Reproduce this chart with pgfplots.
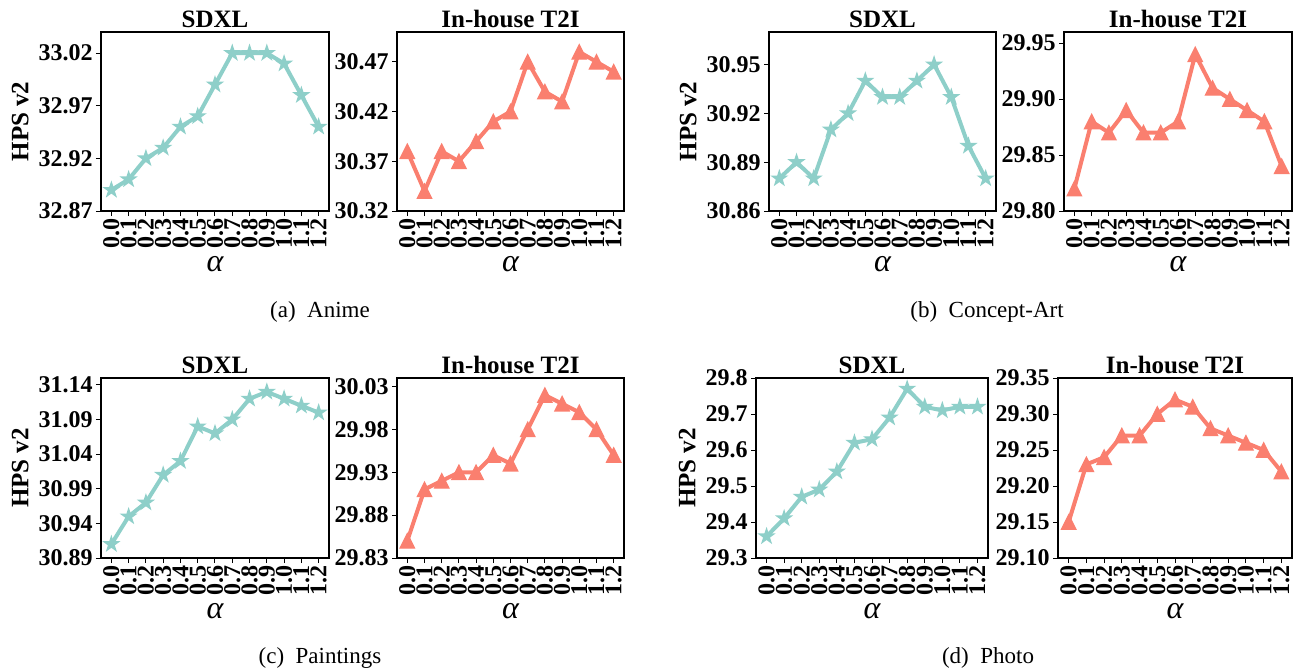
\documentclass[border=0pt]{standalone}
\usepackage{fontspec}
\setmainfont{Liberation Serif}
\usepackage{pgfplots}
\pgfplotsset{compat=1.18}
\usepackage{pgfplotstable}

\definecolor{teal}{HTML}{8ECFC9}
\definecolor{salmon}{HTML}{FA7F6F}

% filled five-pointed star, like matplotlib's '*'
\pgfdeclareplotmark{mstar}{%
  \pgfpathmoveto{\pgfpointpolar{90}{\pgfplotmarksize}}%
  \pgfpathlineto{\pgfpointpolar{126}{0.382\pgfplotmarksize}}%
  \pgfpathlineto{\pgfpointpolar{162}{\pgfplotmarksize}}%
  \pgfpathlineto{\pgfpointpolar{198}{0.382\pgfplotmarksize}}%
  \pgfpathlineto{\pgfpointpolar{234}{\pgfplotmarksize}}%
  \pgfpathlineto{\pgfpointpolar{270}{0.382\pgfplotmarksize}}%
  \pgfpathlineto{\pgfpointpolar{306}{\pgfplotmarksize}}%
  \pgfpathlineto{\pgfpointpolar{342}{0.382\pgfplotmarksize}}%
  \pgfpathlineto{\pgfpointpolar{18}{\pgfplotmarksize}}%
  \pgfpathlineto{\pgfpointpolar{54}{0.382\pgfplotmarksize}}%
  \pgfpathclose
  \pgfusepathqfillstroke}
% triangle as wide as it is high, like matplotlib's '^'
\pgfdeclareplotmark{mtri}{%
  \pgfpathmoveto{\pgfqpoint{0pt}{\pgfplotmarksize}}%
  \pgfpathlineto{\pgfqpoint{-\pgfplotmarksize}{-\pgfplotmarksize}}%
  \pgfpathlineto{\pgfqpoint{\pgfplotmarksize}{-\pgfplotmarksize}}%
  \pgfpathclose
  \pgfusepathqfillstroke}

\pgfplotstableread{
a    sdxl   inhouse
0.0  32.89  30.38
0.1  32.90  30.34
0.2  32.92  30.38
0.3  32.93  30.37
0.4  32.95  30.39
0.5  32.96  30.41
0.6  32.99  30.42
0.7  33.02  30.47
0.8  33.02  30.44
0.9  33.02  30.43
1.0  33.01  30.48
1.1  32.98  30.47
1.2  32.95  30.46
}\anime
\pgfplotstableread{
a    sdxl   inhouse
0.0  30.88  29.82
0.1  30.89  29.88
0.2  30.88  29.87
0.3  30.91  29.89
0.4  30.92  29.87
0.5  30.94  29.87
0.6  30.93  29.88
0.7  30.93  29.94
0.8  30.94  29.91
0.9  30.95  29.90
1.0  30.93  29.89
1.1  30.90  29.88
1.2  30.88  29.84
}\concept
\pgfplotstableread{
a    sdxl   inhouse
0.0  30.91  29.85
0.1  30.95  29.91
0.2  30.97  29.92
0.3  31.01  29.93
0.4  31.03  29.93
0.5  31.08  29.95
0.6  31.07  29.94
0.7  31.09  29.98
0.8  31.12  30.02
0.9  31.13  30.01
1.0  31.12  30.00
1.1  31.11  29.98
1.2  31.10  29.95
}\paintings
\pgfplotstableread{
a    sdxl   inhouse
0.0  29.36  29.15
0.1  29.41  29.23
0.2  29.47  29.24
0.3  29.49  29.27
0.4  29.54  29.27
0.5  29.62  29.30
0.6  29.63  29.32
0.7  29.69  29.31
0.8  29.77  29.28
0.9  29.72  29.27
1.0  29.71  29.26
1.1  29.72  29.25
1.2  29.72  29.22
}\photo

\pgfplotsset{
  panel/.style={
    scale only axis,
    xmin=-0.06, xmax=1.26,
    xtick={0,0.1,0.2,0.3,0.4,0.5,0.6,0.7,0.8,0.9,1.0,1.1,1.2},
    xticklabels={0.0,0.1,0.2,0.3,0.4,0.5,0.6,0.7,0.8,0.9,1.0,1.1,1.2},
    xtick pos=left, ytick pos=left,
    tick align=outside,
    major tick length=2.5pt,
    every tick/.style={black, line width=0.5pt},
    axis line style={black, line width=0.6pt},
    /pgf/number format/assume math mode=true,
    /pgf/number format/.cd, fixed, fixed zerofill, precision=2, /pgfplots/.cd,
    tick label style={font=\bfseries\fontsize{12}{14}\selectfont},
    xticklabel style={rotate=90, anchor=east, inner sep=1pt},
    yticklabel style={inner sep=1.5pt},
    every axis title shift=0pt,
    title style={font=\bfseries\fontsize{12.5}{15}\selectfont, at={(0.5,1)}, anchor=base, yshift=2.5pt},
    xlabel={\fontsize{16}{18}\selectfont\itshape α},
    xlabel style={at={(axis description cs:0.5,0)}, anchor=center, yshift=-26.5pt},
    ylabel style={font=\bfseries\fontsize{12.5}{15}\selectfont},
  },
  sdxlplot/.style={color=teal, line width=2pt, mark=mstar, mark size=3.8pt,
    mark options={solid, line width=0.6pt}},
  t2iplot/.style={color=salmon, line width=2pt, mark=mtri, mark size=3.6pt,
    mark options={solid, line width=0.6pt}},
}

\begin{document}
\begin{tikzpicture}
\useasboundingbox (0,0) rectangle (647pt,-335.5pt);

% (a) Anime
\begin{axis}[panel, at={(50.5pt,-105.5pt)}, anchor=south west,
  width=114pt, height=89.5pt, title={SDXL}, ylabel={HPS v2},
  ymin=32.87, ymax=33.04, ytick={32.87,32.92,32.97,33.02}]
\addplot[sdxlplot] table[x=a, y=sdxl] {\anime};
\end{axis}
\begin{axis}[panel, at={(198.5pt,-105.5pt)}, anchor=south west,
  width=113.5pt, height=89.5pt, title={In-house T2I},
  ymin=30.32, ymax=30.50, ytick={30.32,30.37,30.42,30.47}]
\addplot[t2iplot] table[x=a, y=inhouse] {\anime};
\end{axis}

% (b) Concept-Art
\begin{axis}[panel, at={(384.5pt,-105.5pt)}, anchor=south west,
  width=113.5pt, height=89.5pt, title={SDXL}, ylabel={HPS v2},
  ymin=30.86, ymax=30.97, ytick={30.86,30.89,30.92,30.95}]
\addplot[sdxlplot] table[x=a, y=sdxl] {\concept};
\end{axis}
\begin{axis}[panel, at={(532pt,-105.5pt)}, anchor=south west,
  width=114pt, height=89.5pt, title={In-house T2I},
  ymin=29.80, ymax=29.96, ytick={29.80,29.85,29.90,29.95}]
\addplot[t2iplot] table[x=a, y=inhouse] {\concept};
\end{axis}

% (c) Paintings
\begin{axis}[panel, at={(50.5pt,-279pt)}, anchor=south west,
  width=114pt, height=90pt, title={SDXL}, ylabel={HPS v2},
  ymin=30.89, ymax=31.15, ytick={30.89,30.94,30.99,31.04,31.09,31.14}]
\addplot[sdxlplot] table[x=a, y=sdxl] {\paintings};
\end{axis}
\begin{axis}[panel, at={(198.5pt,-279pt)}, anchor=south west,
  width=113.5pt, height=90pt, title={In-house T2I},
  ymin=29.83, ymax=30.04, ytick={29.83,29.88,29.93,29.98,30.03}]
\addplot[t2iplot] table[x=a, y=inhouse] {\paintings};
\end{axis}

% (d) Photo
\begin{axis}[panel, at={(378pt,-279pt)}, anchor=south west,
  width=116pt, height=90pt, title={SDXL}, ylabel={HPS v2},
  ymin=29.3, ymax=29.8, ytick={29.3,29.4,29.5,29.6,29.7,29.8},
  /pgf/number format/precision=1]
\addplot[sdxlplot] table[x=a, y=sdxl] {\photo};
\end{axis}
\begin{axis}[panel, at={(529pt,-279pt)}, anchor=south west,
  width=117pt, height=90pt, title={In-house T2I},
  ymin=29.10, ymax=29.35, ytick={29.10,29.15,29.20,29.25,29.30,29.35}]
\addplot[t2iplot] table[x=a, y=inhouse] {\photo};
\end{axis}

% sub-captions
\begin{scope}[every node/.style={anchor=base, font=\fontsize{11.5}{14}\selectfont}]
\node at (160pt,-158.5pt) {(a)\enspace Anime};
\node at (493.5pt,-158.5pt) {(b)\enspace Concept-Art};
\node at (160pt,-331.5pt) {(c)\enspace Paintings};
\node at (494pt,-331.5pt) {(d)\enspace Photo};
\end{scope}
\end{tikzpicture}
\end{document}
